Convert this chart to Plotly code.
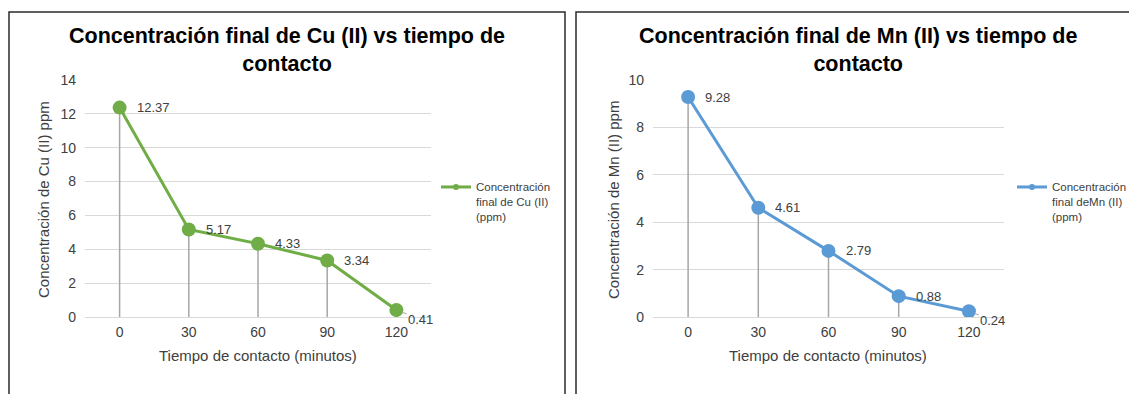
import plotly.graph_objects as go

# Contact time categories (minutes)
tiempos = ["0", "30", "60", "90", "120"]

# Final concentrations (ppm)
cu_final = [12.37, 5.17, 4.33, 3.34, 0.41]
mn_final = [9.28, 4.61, 2.79, 0.88, 0.24]

cu_ticks = [0, 2, 4, 6, 8, 10, 12, 14]
mn_ticks = [0, 2, 4, 6, 8, 10]

W, H = 1129, 394
FONT = "Liberation Sans, Arial, sans-serif"
GREEN = "#70AD47"
BLUE = "#5B9BD5"
GRID = "#D9D9D9"
DROP = "#A6A6A6"
TXT = "#404040"


def px_x(p):
    return p / W


def px_y(p):
    return 1 - p / H


def drop_lines(cats, vals):
    xs, ys = [], []
    for c, v in zip(cats, vals):
        xs += [c, c, None]
        ys += [0, v, None]
    return xs, ys


fig = go.Figure()

panels = [
    dict(vals=cu_final, color=GREEN, xa="x", ya="y", legend="legend",
         name="Concentración<br>final de Cu (II)<br>(ppm)"),
    dict(vals=mn_final, color=BLUE, xa="x2", ya="y2", legend="legend2",
         name="Concentración<br>final deMn (II)<br>(ppm)"),
]

for p in panels:
    dx, dy = drop_lines(tiempos, p["vals"])
    fig.add_trace(go.Scatter(
        x=dx, y=dy, mode="lines", xaxis=p["xa"], yaxis=p["ya"],
        line=dict(color=DROP, width=1.5), showlegend=False, hoverinfo="skip",
    ))
    fig.add_trace(go.Scatter(
        x=tiempos, y=p["vals"], mode="lines+markers", xaxis=p["xa"], yaxis=p["ya"],
        line=dict(color=p["color"], width=3),
        marker=dict(color=p["color"], size=14),
        showlegend=False,
    ))
    # legend entry with a small marker
    fig.add_trace(go.Scatter(
        x=[None], y=[None], mode="lines+markers", xaxis=p["xa"], yaxis=p["ya"],
        line=dict(color=p["color"], width=3),
        marker=dict(color=p["color"], size=6),
        name=p["name"], legend=p["legend"], showlegend=True,
    ))

annotations = []

# data labels (x given as category index)
for p in panels:
    n = len(tiempos)
    for i, v in enumerate(p["vals"]):
        if i == n - 1:
            annotations.append(dict(
                x=i, y=v, xref=p["xa"], yref=p["ya"], text=f"{v:.2f}",
                showarrow=True, ax=24, ay=9, arrowhead=0, arrowwidth=1,
                arrowcolor=DROP, standoff=6, startstandoff=0,
                xanchor="center", yanchor="middle",
                font=dict(family=FONT, size=13, color=TXT),
            ))
        else:
            annotations.append(dict(
                x=i, y=v, xref=p["xa"], yref=p["ya"], text=f"{v:.2f}",
                showarrow=False, xanchor="left", yanchor="middle", xshift=15,
                font=dict(family=FONT, size=13, color=TXT),
            ))

# titles
for cx, metal in [(287, "Cu"), (858, "Mn")]:
    annotations.append(dict(
        x=px_x(cx), y=px_y(22), xref="paper", yref="paper",
        text=f"<b>Concentración final de {metal} (II) vs tiempo de<br>contacto</b>",
        showarrow=False, xanchor="center", yanchor="top",
        font=dict(family=FONT, size=21.5, color="#000000"),
    ))

# axis titles
for cx in (258, 828):
    annotations.append(dict(
        x=px_x(cx), y=px_y(355), xref="paper", yref="paper",
        text="Tiempo de contacto (minutos)", showarrow=False,
        xanchor="center", yanchor="middle",
        font=dict(family=FONT, size=15, color=TXT),
    ))
for cx, metal in [(43, "Cu"), (613, "Mn")]:
    annotations.append(dict(
        x=px_x(cx), y=px_y(200), xref="paper", yref="paper",
        text=f"Concentración de {metal} (II) ppm", showarrow=False,
        textangle=-90, xanchor="center", yanchor="middle",
        font=dict(family=FONT, size=15, color=TXT),
    ))

# panel frames
shapes = [
    dict(type="rect", xref="paper", yref="paper",
         x0=px_x(9), x1=px_x(565), y0=-0.2, y1=px_y(12),
         line=dict(color="#2b2b2b", width=1.5)),
    dict(type="rect", xref="paper", yref="paper",
         x0=px_x(576), x1=1.2, y0=-0.2, y1=px_y(12),
         line=dict(color="#2b2b2b", width=1.5)),
]

xaxis_common = dict(
    type="category", range=[-0.5, 4.5], showgrid=False, zeroline=False,
    showline=False, ticks="", automargin=False, ticklabelstandoff=5,
    tickfont=dict(family=FONT, size=14, color=TXT), fixedrange=True,
)
yaxis_common = dict(
    showgrid=True, gridcolor=GRID, gridwidth=1, zeroline=True,
    zerolinecolor=GRID, zerolinewidth=1, showline=False, ticks="",
    automargin=False, ticklabelstandoff=8,
    tickfont=dict(family=FONT, size=14, color=TXT), fixedrange=True,
)

legend_common = dict(
    font=dict(family=FONT, size=11.5, color=TXT), bgcolor="rgba(0,0,0,0)",
    valign="top", xanchor="left", yanchor="top", itemwidth=30,
    tracegroupgap=0,
)

fig.update_layout(
    width=W, height=H,
    margin=dict(l=0, r=0, t=0, b=0, autoexpand=False),
    paper_bgcolor="white", plot_bgcolor="white",
    xaxis=dict(domain=[px_x(85), px_x(431)], anchor="y", **xaxis_common),
    yaxis=dict(domain=[px_y(317), px_y(80)], anchor="x", range=[0, 14],
               tickvals=cu_ticks, **yaxis_common),
    xaxis2=dict(domain=[px_x(653), px_x(1004)], anchor="y2", **xaxis_common),
    yaxis2=dict(domain=[px_y(317), px_y(80)], anchor="x2", range=[0, 10],
                tickvals=mn_ticks, **yaxis_common),
    legend=dict(x=px_x(436), y=px_y(173), **legend_common),
    legend2=dict(x=px_x(1012), y=px_y(173), **legend_common),
    annotations=annotations,
    shapes=shapes,
    showlegend=True,
)

fig.write_html("out.html")
